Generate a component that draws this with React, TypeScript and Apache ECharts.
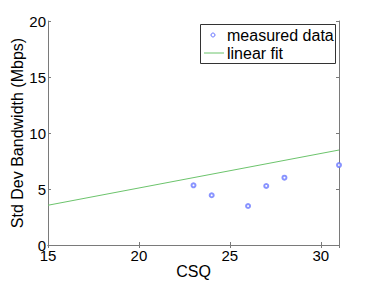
import React, { useEffect, useRef } from "react";
import * as echarts from "echarts";

const csq = [23, 24, 26, 27, 28, 31];
const stdDev = [5.33, 4.44, 3.48, 5.27, 6.01, 7.14];
const fitX = [15, 31];
const fitY = [3.55, 8.48];
const xTicks = [15, 20, 25, 30];
const yTicks = [0, 5, 10, 15, 20];
const legendNames = ["measured data", "linear fit"];

const FONT = "Liberation Sans";
const AXIS = "#7a7a7a";
const BLUE = "#6a78ff";
const GREEN = "#6cc46c";

export default function App() {
  const ref = useRef<HTMLDivElement>(null);
  useEffect(() => {
    if (!ref.current) return;
    const chart = echarts.init(ref.current, undefined, { renderer: "svg" });
    const baseAxis = {
      type: "value" as const,
      axisLine: { show: true, lineStyle: { color: AXIS, width: 1 } },
      axisTick: { show: true, inside: true, length: 3, lineStyle: { color: AXIS } },
      splitLine: { show: false },
    };
    chart.setOption({
      animation: false,
      textStyle: { fontFamily: FONT },
      grid: { left: 48, right: 35, top: 21, bottom: 36, containLabel: false, outerBoundsMode: "none" },
      graphic: [
        {
          type: "rect",
          shape: { x: 200.5, y: 24.5, width: 135, height: 39 },
          style: { fill: "#fff", stroke: "#333", lineWidth: 1 },
          z: 100,
        },
        {
          type: "circle",
          shape: { cx: 213, cy: 35, r: 2 },
          style: { fill: "none", stroke: BLUE, lineWidth: 1 },
          z: 101,
        },
        {
          type: "line",
          shape: { x1: 204, y1: 53, x2: 224, y2: 53 },
          style: { stroke: GREEN, lineWidth: 1 },
          z: 101,
        },
        {
          type: "text",
          x: 227,
          y: 35,
          style: { text: legendNames[0], font: `16px "${FONT}"`, fill: "#000", verticalAlign: "middle" },
          z: 101,
        },
        {
          type: "text",
          x: 227,
          y: 53,
          style: { text: legendNames[1], font: `16px "${FONT}"`, fill: "#000", verticalAlign: "middle" },
          z: 101,
        },
      ],
      xAxis: [
        {
          ...baseAxis,
          min: 15,
          max: 31,
          interval: 5,
          position: "bottom",
          name: "CSQ",
          nameLocation: "middle",
          nameGap: 18,
          nameMoveOverlap: false,
          nameTextStyle: { fontFamily: FONT, fontSize: 16, color: "#000" },
          axisLabel: {
            show: true,
            fontFamily: FONT,
            fontSize: 15,
            color: "#000",
            margin: 3,
            showMaxLabel: false,
            formatter: (v: number) => (xTicks.includes(v) ? String(v) : ""),
          },
        },
        {
          ...baseAxis,
          min: 15,
          max: 31,
          interval: 5,
          position: "top",
          axisLabel: { show: false },
        },
      ],
      yAxis: [
        {
          ...baseAxis,
          min: 0,
          max: 20,
          interval: 5,
          position: "left",
          name: "Std Dev Bandwidth (Mbps)",
          nameLocation: "middle",
          nameGap: 23,
          nameMoveOverlap: false,
          nameTextStyle: { fontFamily: FONT, fontSize: 16, color: "#000" },
          axisLabel: {
            show: true,
            fontFamily: FONT,
            fontSize: 15,
            color: "#000",
            margin: 2,
            formatter: (v: number) => (yTicks.includes(v) ? String(v) : ""),
          },
        },
        {
          ...baseAxis,
          min: 0,
          max: 20,
          interval: 5,
          position: "right",
          axisLabel: { show: false },
        },
      ],
      series: [
        {
          name: legendNames[0],
          type: "scatter",
          symbol: "emptyCircle",
          symbolSize: 4,
          itemStyle: { color: BLUE, borderColor: BLUE, borderWidth: 1 },
          data: csq.map((x, i) => [x, stdDev[i]]),
        },
        {
          name: legendNames[1],
          type: "line",
          symbol: "none",
          lineStyle: { color: GREEN, width: 1 },
          data: fitX.map((x, i) => [x, fitY[i]]),
        },
      ],
    });
    return () => chart.dispose();
  }, []);
  return <div ref={ref} style={{ width: 374, height: 281, position: "absolute", left: 0, top: 0 }} />;
}
